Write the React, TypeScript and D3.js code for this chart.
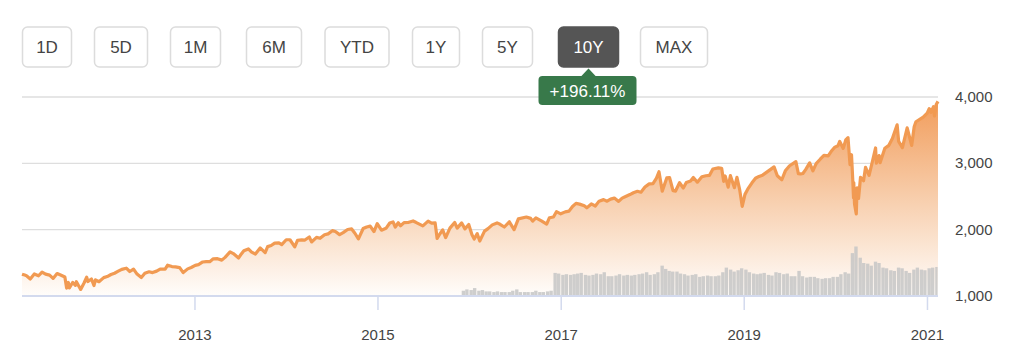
import React, { useEffect, useRef } from "react";
import * as d3 from "d3";

// S&P 500 closes, 10Y window (sampled, with the big swings kept)
const closes: [string, number][] = [
  ["2011-02-11", 1329], ["2011-02-22", 1315], ["2011-03-01", 1306], ["2011-03-16", 1257],
  ["2011-04-01", 1332], ["2011-04-18", 1305], ["2011-05-02", 1361], ["2011-05-16", 1329],
  ["2011-06-01", 1314], ["2011-06-15", 1265], ["2011-07-01", 1339], ["2011-07-15", 1316],
  ["2011-08-01", 1286], ["2011-08-08", 1119], ["2011-08-15", 1204], ["2011-08-19", 1123],
  ["2011-09-01", 1204], ["2011-09-12", 1162], ["2011-09-16", 1216], ["2011-10-03", 1099],
  ["2011-10-17", 1200], ["2011-10-27", 1284], ["2011-11-01", 1218], ["2011-11-15", 1257],
  ["2011-11-25", 1158], ["2011-12-01", 1244], ["2011-12-15", 1215],
  ["2012-01-03", 1277], ["2012-01-17", 1293], ["2012-02-01", 1324], ["2012-02-15", 1343],
  ["2012-03-01", 1374], ["2012-03-15", 1402], ["2012-04-02", 1419], ["2012-04-16", 1369],
  ["2012-05-01", 1405], ["2012-05-15", 1330], ["2012-06-01", 1278], ["2012-06-15", 1342],
  ["2012-07-02", 1365], ["2012-07-16", 1353], ["2012-08-01", 1375], ["2012-08-15", 1405],
  ["2012-09-04", 1404], ["2012-09-14", 1465], ["2012-10-01", 1444], ["2012-10-15", 1440],
  ["2012-11-01", 1427], ["2012-11-15", 1353], ["2012-12-03", 1409], ["2012-12-17", 1430],
  ["2013-01-02", 1462], ["2013-01-15", 1472], ["2013-02-01", 1513], ["2013-02-15", 1519],
  ["2013-03-01", 1518], ["2013-03-15", 1560], ["2013-04-01", 1562], ["2013-04-18", 1541],
  ["2013-05-01", 1582], ["2013-05-21", 1666], ["2013-06-03", 1640], ["2013-06-24", 1573],
  ["2013-07-01", 1614], ["2013-07-15", 1682], ["2013-08-02", 1709], ["2013-08-15", 1661],
  ["2013-08-30", 1633], ["2013-09-18", 1725], ["2013-10-08", 1655], ["2013-10-18", 1744],
  ["2013-11-01", 1761], ["2013-11-15", 1798], ["2013-12-02", 1800], ["2013-12-13", 1775],
  ["2013-12-31", 1848],
  ["2014-01-15", 1848], ["2014-02-03", 1741], ["2014-02-14", 1838], ["2014-03-03", 1845],
  ["2014-03-14", 1841], ["2014-04-02", 1890], ["2014-04-11", 1815], ["2014-05-01", 1883],
  ["2014-05-15", 1870], ["2014-06-02", 1924], ["2014-06-16", 1937], ["2014-07-03", 1985],
  ["2014-07-15", 1973], ["2014-08-01", 1925], ["2014-08-15", 1955], ["2014-09-02", 2002],
  ["2014-09-18", 2011], ["2014-10-01", 1946], ["2014-10-15", 1862], ["2014-11-03", 2017],
  ["2014-11-17", 2041], ["2014-12-01", 2053], ["2014-12-16", 1972], ["2014-12-29", 2090],
  ["2015-01-15", 1992], ["2015-02-02", 2020], ["2015-02-17", 2100], ["2015-03-02", 2117],
  ["2015-03-11", 2040], ["2015-03-23", 2104], ["2015-04-01", 2059], ["2015-04-15", 2106],
  ["2015-05-01", 2108], ["2015-05-21", 2131], ["2015-06-01", 2111], ["2015-06-15", 2084],
  ["2015-06-29", 2057], ["2015-07-20", 2128], ["2015-08-03", 2098], ["2015-08-17", 2102],
  ["2015-08-25", 1867], ["2015-09-01", 1913], ["2015-09-16", 1996], ["2015-09-28", 1881],
  ["2015-10-15", 2023], ["2015-11-03", 2109], ["2015-11-13", 2023], ["2015-12-01", 2102],
  ["2015-12-14", 2012], ["2015-12-29", 2078],
  ["2016-01-11", 1923], ["2016-01-20", 1859], ["2016-02-01", 1940], ["2016-02-11", 1829],
  ["2016-03-01", 1978], ["2016-03-15", 2016], ["2016-04-01", 2072], ["2016-04-20", 2102],
  ["2016-05-02", 2081], ["2016-05-19", 2040], ["2016-06-08", 2119], ["2016-06-27", 2001],
  ["2016-07-14", 2163], ["2016-08-15", 2190], ["2016-09-01", 2170], ["2016-09-09", 2128],
  ["2016-09-22", 2177], ["2016-10-14", 2133], ["2016-11-04", 2085], ["2016-11-15", 2180],
  ["2016-12-01", 2191], ["2016-12-13", 2271], ["2016-12-30", 2239],
  ["2017-01-17", 2268], ["2017-02-01", 2279], ["2017-02-15", 2349], ["2017-03-01", 2396],
  ["2017-03-15", 2385], ["2017-04-03", 2359], ["2017-04-13", 2329], ["2017-05-01", 2388],
  ["2017-05-17", 2357], ["2017-06-01", 2430], ["2017-06-19", 2453], ["2017-07-03", 2429],
  ["2017-07-17", 2460], ["2017-08-01", 2476], ["2017-08-18", 2426], ["2017-09-01", 2476],
  ["2017-09-15", 2500], ["2017-10-02", 2529], ["2017-10-16", 2557], ["2017-11-01", 2579],
  ["2017-11-15", 2565], ["2017-12-01", 2642], ["2017-12-18", 2690],
  ["2018-01-02", 2695], ["2018-01-16", 2776], ["2018-01-26", 2873], ["2018-02-08", 2581],
  ["2018-02-26", 2780], ["2018-03-09", 2786], ["2018-03-23", 2588], ["2018-04-02", 2582],
  ["2018-04-18", 2708], ["2018-05-03", 2629], ["2018-05-15", 2711], ["2018-06-01", 2734],
  ["2018-06-12", 2787], ["2018-06-28", 2716], ["2018-07-16", 2798], ["2018-08-01", 2813],
  ["2018-08-15", 2818], ["2018-08-29", 2914], ["2018-09-20", 2931], ["2018-10-03", 2925],
  ["2018-10-11", 2728], ["2018-10-17", 2809], ["2018-10-29", 2641], ["2018-11-07", 2814],
  ["2018-11-23", 2633], ["2018-12-03", 2790], ["2018-12-14", 2600], ["2018-12-24", 2351],
  ["2019-01-04", 2532], ["2019-01-15", 2610], ["2019-02-01", 2707], ["2019-02-15", 2775],
  ["2019-03-01", 2803], ["2019-03-15", 2822], ["2019-04-01", 2867], ["2019-04-15", 2905],
  ["2019-04-30", 2946], ["2019-05-13", 2812], ["2019-05-31", 2752], ["2019-06-14", 2887],
  ["2019-07-01", 2964], ["2019-07-26", 3025], ["2019-08-05", 2844], ["2019-08-14", 2840],
  ["2019-08-23", 2847], ["2019-09-03", 2906], ["2019-09-19", 3006], ["2019-10-02", 2888],
  ["2019-10-15", 2995], ["2019-11-01", 3066], ["2019-11-15", 3120], ["2019-12-02", 3113],
  ["2019-12-16", 3191], ["2019-12-27", 3240],
  ["2020-01-10", 3265], ["2020-01-17", 3330], ["2020-01-31", 3225], ["2020-02-10", 3352],
  ["2020-02-19", 3386], ["2020-02-27", 2979], ["2020-03-04", 3130], ["2020-03-09", 2746],
  ["2020-03-12", 2481], ["2020-03-13", 2711], ["2020-03-16", 2386], ["2020-03-23", 2237],
  ["2020-03-26", 2630], ["2020-04-01", 2470], ["2020-04-09", 2790], ["2020-04-21", 2737],
  ["2020-04-29", 2940], ["2020-05-13", 2820], ["2020-05-27", 3036], ["2020-06-08", 3232],
  ["2020-06-11", 3002], ["2020-06-22", 3117], ["2020-06-26", 3009], ["2020-07-15", 3227],
  ["2020-07-31", 3271], ["2020-08-14", 3373], ["2020-09-02", 3580], ["2020-09-08", 3332],
  ["2020-09-23", 3237], ["2020-10-12", 3535], ["2020-10-30", 3270], ["2020-11-09", 3551],
  ["2020-11-16", 3627], ["2020-12-01", 3662], ["2020-12-15", 3695], ["2020-12-31", 3756],
  ["2021-01-08", 3825], ["2021-01-15", 3768], ["2021-01-25", 3855], ["2021-01-29", 3714],
  ["2021-02-05", 3887], ["2021-02-12", 3934]
];

// volume, billions of shares, half-month buckets
const volumes: [string, number][] = [
  ["2015-12-01", 0.8], ["2015-12-15", 1.0],
  ["2016-01-01", 0.9], ["2016-01-15", 1.2], ["2016-02-01", 0.8], ["2016-02-15", 0.9],
  ["2016-03-01", 0.7], ["2016-03-15", 0.7], ["2016-04-01", 0.6], ["2016-04-15", 0.7],
  ["2016-05-01", 0.6], ["2016-05-15", 0.6], ["2016-06-01", 0.6], ["2016-06-15", 0.8],
  ["2016-07-01", 1.0], ["2016-07-15", 0.6], ["2016-08-01", 0.6], ["2016-08-15", 0.6],
  ["2016-09-01", 0.6], ["2016-09-15", 0.8], ["2016-10-01", 0.6], ["2016-10-15", 0.6],
  ["2016-11-01", 0.7], ["2016-11-15", 0.8], ["2016-12-01", 3.5], ["2016-12-15", 3.4],
  ["2017-01-01", 3.2], ["2017-01-15", 3.3], ["2017-02-01", 3.2], ["2017-02-15", 3.3],
  ["2017-03-01", 3.4], ["2017-03-15", 3.5], ["2017-04-01", 3.2], ["2017-04-15", 3.1],
  ["2017-05-01", 3.2], ["2017-05-15", 3.4], ["2017-06-01", 3.3], ["2017-06-15", 3.6],
  ["2017-07-01", 3.0], ["2017-07-15", 3.0], ["2017-08-01", 3.1], ["2017-08-15", 3.3],
  ["2017-09-01", 3.1], ["2017-09-15", 3.2], ["2017-10-01", 3.1], ["2017-10-15", 3.2],
  ["2017-11-01", 3.3], ["2017-11-15", 3.4], ["2017-12-01", 3.6], ["2017-12-15", 3.2],
  ["2018-01-01", 3.3], ["2018-01-15", 3.6], ["2018-02-01", 4.6], ["2018-02-15", 4.1],
  ["2018-03-01", 3.8], ["2018-03-15", 3.7], ["2018-04-01", 3.7], ["2018-04-15", 3.4],
  ["2018-05-01", 3.3], ["2018-05-15", 3.1], ["2018-06-01", 3.2], ["2018-06-15", 3.3],
  ["2018-07-01", 2.9], ["2018-07-15", 3.0], ["2018-08-01", 3.1], ["2018-08-15", 3.0],
  ["2018-09-01", 3.0], ["2018-09-15", 3.1], ["2018-10-01", 3.6], ["2018-10-15", 4.3],
  ["2018-11-01", 4.0], ["2018-11-15", 3.7], ["2018-12-01", 3.9], ["2018-12-15", 4.2],
  ["2019-01-01", 4.0], ["2019-01-15", 3.6], ["2019-02-01", 3.4], ["2019-02-15", 3.3],
  ["2019-03-01", 3.4], ["2019-03-15", 3.5], ["2019-04-01", 3.2], ["2019-04-15", 3.1],
  ["2019-05-01", 3.6], ["2019-05-15", 3.5], ["2019-06-01", 3.3], ["2019-06-15", 3.4],
  ["2019-07-01", 3.0], ["2019-07-15", 3.0], ["2019-08-01", 3.8], ["2019-08-15", 3.0],
  ["2019-09-01", 2.8], ["2019-09-15", 2.9], ["2019-10-01", 2.9], ["2019-10-15", 2.7],
  ["2019-11-01", 2.6], ["2019-11-15", 2.7], ["2019-12-01", 2.7], ["2019-12-15", 2.9],
  ["2020-01-01", 2.9], ["2020-01-15", 3.3], ["2020-02-01", 3.6], ["2020-02-15", 3.4],
  ["2020-03-01", 6.5], ["2020-03-15", 7.5], ["2020-04-01", 5.8], ["2020-04-15", 5.0],
  ["2020-05-01", 4.9], ["2020-05-15", 4.6], ["2020-06-01", 5.2], ["2020-06-15", 5.0],
  ["2020-07-01", 4.3], ["2020-07-15", 4.2], ["2020-08-01", 3.9], ["2020-08-15", 3.8],
  ["2020-09-01", 4.3], ["2020-09-15", 4.2], ["2020-10-01", 3.8], ["2020-10-15", 3.5],
  ["2020-11-01", 4.0], ["2020-11-15", 4.3], ["2020-12-01", 4.0], ["2020-12-15", 3.9],
  ["2021-01-01", 4.2], ["2021-01-15", 4.3], ["2021-02-01", 4.4]
];

const yTicks = [1000, 2000, 3000, 4000];
const xTickYears = [2013, 2015, 2017, 2019, 2021];
const ranges = ["1D", "5D", "1M", "6M", "YTD", "1Y", "5Y", "10Y", "MAX"];
const activeRange = "10Y";
const changeLabel = "+196.11%";

// button layout measured from the page
const buttonX = [22.5, 94.5, 170.5, 246.5, 325, 412.5, 482.5, 558.5, 640.5];
const buttonW = [49, 53, 50, 55, 64, 47, 50, 60, 67];

const W = 1018;
const H = 364;
const font = "'Helvetica Neue', Helvetica, Arial, 'Liberation Sans', sans-serif";

export default function App() {
  const ref = useRef<SVGSVGElement>(null);

  useEffect(() => {
    const svg = d3.select(ref.current);
    svg.selectAll("*").remove();

    const parse = d3.timeParse("%Y-%m-%d");
    const prices = closes.map(([d, v]) => ({ date: parse(d)!, value: v }));
    const vols = volumes.map(([d, v]) => ({ date: parse(d)!, value: v }));

    const x = d3
      .scaleTime()
      .domain([parse("2011-02-11")!, parse("2021-02-12")!])
      .range([22, 938]);
    const y = d3.scaleLinear().domain([1000, 4000]).range([296, 97]);
    const yVol = d3.scaleLinear().domain([0, 10]).range([296, 230]);

    const defs = svg.append("defs");
    const grad = defs
      .append("linearGradient")
      .attr("id", "areaGrad")
      .attr("gradientUnits", "userSpaceOnUse")
      .attr("x1", 0)
      .attr("x2", 0)
      .attr("y1", y(4000))
      .attr("y2", y(1000));
    grad.append("stop").attr("offset", 0).attr("stop-color", "#f19b58");
    grad.append("stop").attr("offset", 0.55).attr("stop-color", "#f8d2b3");
    grad.append("stop").attr("offset", 1).attr("stop-color", "#fffdfb");

    // grid
    svg
      .append("g")
      .selectAll("line")
      .data(yTicks.filter(t => t > 1000))
      .join("line")
      .attr("x1", 22)
      .attr("x2", 938)
      .attr("y1", d => y(d))
      .attr("y2", d => y(d))
      .attr("stroke", "#dedede")
      .attr("stroke-width", 1.3);

    // area + line
    const area = d3
      .area<{ date: Date; value: number }>()
      .x(d => x(d.date))
      .y0(y(1000))
      .y1(d => y(d.value));
    svg.append("path").datum(prices).attr("d", area).attr("fill", "url(#areaGrad)");

    // volume bars
    svg
      .append("g")
      .selectAll("rect")
      .data(vols)
      .join("rect")
      .attr("x", d => x(d.date))
      .attr("width", d => Math.max(0, Math.min(938, x(d3.timeDay.offset(d.date, 15))) - x(d.date) - 0.4))
      .attr("y", d => yVol(d.value))
      .attr("height", d => yVol(0) - yVol(d.value))
      .attr("fill", "#c6c6c6")
      .attr("opacity", 0.85);

    const line = d3
      .line<{ date: Date; value: number }>()
      .x(d => x(d.date))
      .y(d => y(d.value));
    svg
      .append("path")
      .datum(prices)
      .attr("d", line)
      .attr("fill", "none")
      .attr("stroke", "#f19a52")
      .attr("stroke-width", 3.2)
      .attr("stroke-linejoin", "round");

    // x axis
    svg
      .append("line")
      .attr("x1", 22)
      .attr("x2", 938)
      .attr("y1", y(1000))
      .attr("y2", y(1000))
      .attr("stroke", "#d3daee")
      .attr("stroke-width", 2);

    const xAxis = svg.append("g");
    xTickYears.forEach(yr => {
      const xp = x(new Date(yr, 0, 1));
      xAxis
        .append("line")
        .attr("x1", xp)
        .attr("x2", xp)
        .attr("y1", y(1000))
        .attr("y2", 310)
        .attr("stroke", "#d3daee")
        .attr("stroke-width", 1.5);
      xAxis
        .append("text")
        .attr("x", xp)
        .attr("y", 340)
        .attr("text-anchor", "middle")
        .attr("font-family", font)
        .attr("font-size", 15)
        .attr("fill", "#444")
        .text(String(yr));
    });

    // y labels
    svg
      .append("g")
      .selectAll("text")
      .data(yTicks)
      .join("text")
      .attr("x", 955)
      .attr("y", d => y(d) + 5)
      .attr("font-family", font)
      .attr("font-size", 15)
      .attr("fill", "#444")
      .text(d => d3.format(",")(d));

    // range buttons
    const btns = svg.append("g");
    ranges.forEach((r, i) => {
      const active = r === activeRange;
      btns
        .append("rect")
        .attr("x", buttonX[i])
        .attr("y", 27)
        .attr("width", buttonW[i])
        .attr("height", 40)
        .attr("rx", 5)
        .attr("fill", active ? "#555555" : "#fff")
        .attr("stroke", active ? "#555555" : "#dcdcdc")
        .attr("stroke-width", 1.5);
      btns
        .append("text")
        .attr("x", buttonX[i] + buttonW[i] / 2)
        .attr("y", 53)
        .attr("text-anchor", "middle")
        .attr("font-family", font)
        .attr("font-size", 17)
        .attr("fill", active ? "#fff" : "#444")
        .text(r);
    });

    // change badge under the active button
    const ai = ranges.indexOf(activeRange);
    const cx = buttonX[ai] + buttonW[ai] / 2;
    const badge = svg.append("g");
    badge
      .append("path")
      .attr("d", `M${cx - 8},77 L${cx},68.5 L${cx + 8},77 Z`)
      .attr("fill", "#38794a");
    badge
      .append("rect")
      .attr("x", cx - 50)
      .attr("y", 76)
      .attr("width", 98)
      .attr("height", 29)
      .attr("rx", 4)
      .attr("fill", "#38794a");
    badge
      .append("text")
      .attr("x", cx - 1)
      .attr("y", 96.5)
      .attr("text-anchor", "middle")
      .attr("font-family", font)
      .attr("font-size", 17)
      .attr("fill", "#fff")
      .text(changeLabel);
  }, []);

  return (
    <svg
      ref={ref}
      width={W}
      height={H}
      style={{ position: "absolute", left: 0, top: 0, background: "#fff" }}
    />
  );
}
